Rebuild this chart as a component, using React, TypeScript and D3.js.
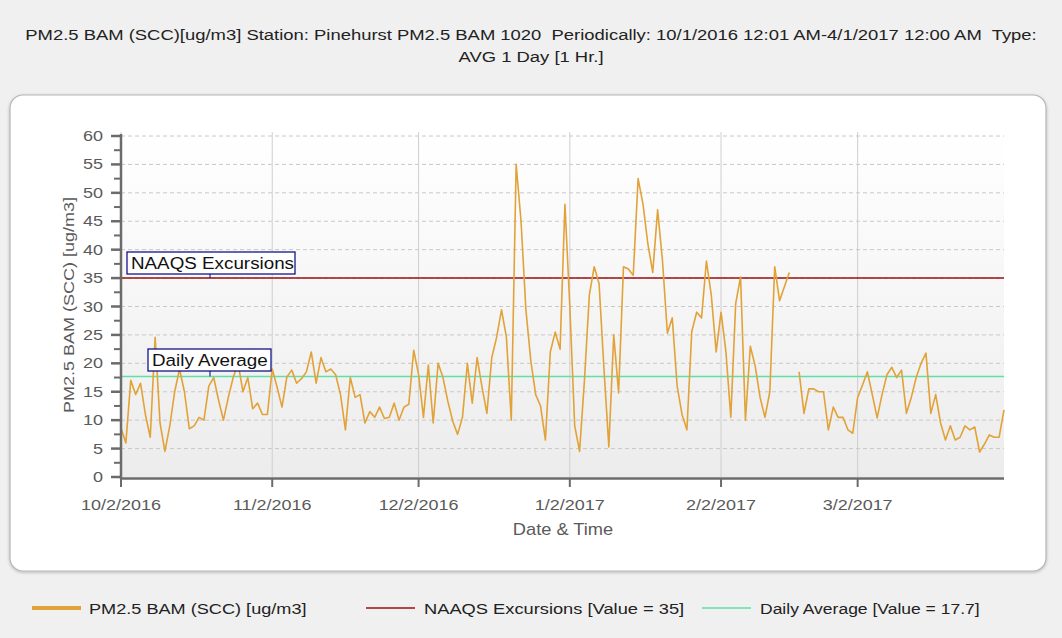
import React from "react";
import * as d3 from "d3";

// ---------- DATA ----------
const titleLines = [
  "PM2.5 BAM (SCC)[ug/m3] Station: Pinehurst PM2.5 BAM 1020  Periodically: 10/1/2016 12:01 AM-4/1/2017 12:00 AM  Type:",
  "AVG 1 Day [1 Hr.]",
];
const seriesStart = new Date(2016, 9, 2);
// daily averages from 10/2/2016 to 4/1/2017 (null = missing)
const pm25: (number | null)[] = [
  8.6, 6, 17, 14.5, 16.5, 11, 7, 24.6, 9.5, 4.5,
  9, 15, 19, 15, 8.5, 9, 10.5, 10, 16, 17.5,
  13.5, 10, 14, 17.5, 20, 15, 17.5, 12, 13, 11,
  11, 19, 15.8, 12.3, 17.6, 18.8, 16.5, 17.3, 18.5, 22,
  16.5, 21, 18.5, 19, 18, 14.5, 8.3, 17.5, 14, 14.5,
  9.5, 11.5, 10.5, 12.3, 10.3, 10.5, 13, 10, 12.3, 12.8,
  22.3, 18, 10.5, 19.7, 9.5, 20, 17.5, 13.3, 9.8, 7.5,
  10.5, 20, 13, 21, 15.8, 11.2, 21, 24.6, 29.4, 24.6,
  10, 55, 45, 29.4, 20.5, 14.5, 12.5, 6.5, 22, 25.5,
  22.5, 48, 30, 9, 4.5, 17, 32, 37, 34, 19,
  5.3, 25, 14.8, 37, 36.6, 35.5, 52.5, 48, 41, 36,
  47, 38, 25.3, 28, 16, 11, 8.3, 25.6, 29, 28,
  38, 32, 22, 29, 22, 10.5, 30.5, 35.2, 10, 23,
  19.5, 14, 10.5, 15, 37, 31, 33.5, 36, null, 18.5,
  11.2, 15.5, 15.5, 15, 15, 8.3, 12.3, 10.5, 10.5, 8.3,
  7.7, 14, 16.2, 18.5, 14.5, 10.4, 14.5, 18, 19.3, 17.5,
  18.8, 11.2, 14, 17.5, 20, 21.8, 11.2, 14.5, 9.5, 6.5,
  9, 6.5, 7, 9, 8.3, 8.8, 4.4, 5.8, 7.4, 7,
  7, 11.8,
];
const naaqsValue = 35;
const dailyAverageValue = 17.7;
const xTickDates = [
  new Date(2016, 9, 2), new Date(2016, 10, 2), new Date(2016, 11, 2),
  new Date(2017, 0, 2), new Date(2017, 1, 2), new Date(2017, 2, 2),
];
const xTickLabels = ["10/2/2016", "11/2/2016", "12/2/2016", "1/2/2017", "2/2/2017", "3/2/2017"];
const yMajorTicks = [0, 5, 10, 15, 20, 25, 30, 35, 40, 45, 50, 55, 60];
const yMinorTicks = [2.5, 7.5, 12.5, 17.5, 22.5, 27.5, 32.5, 37.5, 42.5, 47.5, 52.5, 57.5];
const yAxisTitle = "PM2.5 BAM (SCC) [ug/m3]";
const xAxisTitle = "Date & Time";
const legendLabels = [
  "PM2.5 BAM (SCC) [ug/m3]",
  "NAAQS Excursions [Value = 35]",
  "Daily Average [Value = 17.7]",
];
const annotationLabels = ["NAAQS Excursions", "Daily Average"];

// ---------- STYLE ----------
const FONT = "'Liberation Sans', Arial, sans-serif";
const C_SERIES = "#e2a238";
const C_NAAQS = "#9b1010";
const C_AVG = "#5fe0a8";
const C_AXIS = "#6b6b6b";
const C_TEXT = "#5a5a5a";

type TProps = {
  x: number; y: number; size: number; sx?: number; anchor?: "start" | "middle" | "end";
  fill?: string; rotate?: number; children: React.ReactNode;
};
function T({ x, y, size, sx = 1.18, anchor = "start", fill = "#222", rotate = 0, children }: TProps) {
  return (
    <text
      transform={`translate(${x},${y}) rotate(${rotate}) scale(${sx},1)`}
      textAnchor={anchor}
      fontSize={size}
      fill={fill}
      style={{ whiteSpace: "pre" }}
    >
      {children}
    </text>
  );
}

export default function App() {
  const W = 1062, H = 638;
  const left = 121, right = 1004, top = 136, bottom = 477;

  const x = d3.scaleTime()
    .domain([new Date(2016, 9, 2), new Date(2017, 3, 1)])
    .range([left, right]);
  const y = d3.scaleLinear().domain([0, 60]).range([bottom, top]);

  const pts = pm25.map((v, i) => ({ date: d3.timeDay.offset(seriesStart, i), v }));
  const line = d3.line<{ date: Date; v: number | null }>()
    .defined((d) => d.v !== null)
    .x((d) => x(d.date))
    .y((d) => y(d.v as number));

  const annY = [y(naaqsValue), y(dailyAverageValue)];
  const annBoxes = [
    { x0: 127, w: 168, yTop: 252 },
    { x0: 148, w: 123, yTop: 349 },
  ];

  return (
    <svg width={W} height={H} style={{ position: "absolute", left: 0, top: 0 }} fontFamily={FONT}>
      <defs>
        <linearGradient id="plotBg" x1="0" y1="0" x2="0" y2="1">
          <stop offset="0" stopColor="#ffffff" />
          <stop offset="1" stopColor="#ececec" />
        </linearGradient>
        <filter id="shadow" x="-5%" y="-5%" width="110%" height="110%">
          <feDropShadow dx="0" dy="1" stdDeviation="1.5" floodColor="#000" floodOpacity="0.25" />
        </filter>
      </defs>
      <rect x={0} y={0} width={W} height={H} fill="#f0f0f0" />

      {/* title */}
      {titleLines.map((t, i) => (
        <T key={i} x={531} y={40 + i * 22} size={15.5} sx={1.19} anchor="middle" fill="#222">
          {t}
        </T>
      ))}

      {/* panel */}
      <rect x={10} y={95} width={1036} height={476} rx={13} fill="#fff" stroke="#b5b5b5" strokeWidth={1.2} filter="url(#shadow)" />

      {/* plot background */}
      <rect x={left} y={top - 4} width={right - left} height={bottom - top + 4} fill="url(#plotBg)" />

      {/* horizontal dashed grid */}
      {yMajorTicks.filter((t) => t > 0).map((t) => (
        <line key={"hg" + t} x1={left} x2={right} y1={y(t)} y2={y(t)} stroke="#c8c8c8" strokeDasharray="4,3" strokeWidth={1} />
      ))}
      {/* vertical grid */}
      {xTickDates.map((d, i) => (
        <line key={"vg" + i} x1={x(d)} x2={x(d)} y1={top - 4} y2={bottom} stroke="#cfcfcf" strokeWidth={1} />
      ))}

      {/* reference lines */}
      <line x1={left} x2={right} y1={y(naaqsValue)} y2={y(naaqsValue)} stroke={C_NAAQS} strokeWidth={1.5} />
      <line x1={left} x2={right} y1={y(dailyAverageValue)} y2={y(dailyAverageValue)} stroke={C_AVG} strokeWidth={1.5} />

      {/* series */}
      <path d={line(pts) || ""} fill="none" stroke={C_SERIES} strokeWidth={1.6} strokeLinejoin="round" />

      {/* axes */}
      <line x1={left} x2={left} y1={top - 2} y2={bottom + 2} stroke={C_AXIS} strokeWidth={2.5} />
      <line x1={left - 1} x2={right} y1={bottom + 1.5} y2={bottom + 1.5} stroke={C_AXIS} strokeWidth={2.5} />
      {yMinorTicks.map((t) => (
        <line key={"ym" + t} x1={left - 7} x2={left} y1={y(t)} y2={y(t)} stroke={C_AXIS} strokeWidth={2} />
      ))}
      {yMajorTicks.map((t) => (
        <line key={"yt" + t} x1={left - 10} x2={left} y1={y(t)} y2={y(t)} stroke={C_AXIS} strokeWidth={2.5} />
      ))}
      {yMajorTicks.map((t) => (
        <T key={"yl" + t} x={103} y={y(t) + 5} size={15} sx={1.2} anchor="end" fill={C_TEXT}>
          {String(t)}
        </T>
      ))}
      {xTickDates.map((d, i) => (
        <g key={"xt" + i}>
          <line x1={x(d)} x2={x(d)} y1={bottom + 2} y2={bottom + 10} stroke={C_AXIS} strokeWidth={2} />
          <T x={x(d)} y={bottom + 33} size={15.5} sx={1.16} anchor="middle" fill={C_TEXT}>
            {xTickLabels[i]}
          </T>
        </g>
      ))}
      <T x={563} y={535} size={16} sx={1.14} anchor="middle" fill={C_TEXT}>{xAxisTitle}</T>
      <T x={74} y={305} size={15} sx={1.2} rotate={-90} anchor="middle" fill={C_TEXT}>{yAxisTitle}</T>

      {/* annotation boxes */}
      {annotationLabels.map((lab, i) => (
        <g key={"ann" + i}>
          <line x1={210} x2={210} y1={annBoxes[i].yTop + 22} y2={annY[i]} stroke="#000080" strokeWidth={1} />
          <rect x={annBoxes[i].x0} y={annBoxes[i].yTop} width={annBoxes[i].w} height={22} fill="#fff" stroke="#000080" strokeWidth={1.2} />
          <T x={annBoxes[i].x0 + 4} y={annBoxes[i].yTop + 17} size={16.5} sx={1.14} fill="#111">{lab}</T>
        </g>
      ))}

      {/* legend */}
      <line x1={32} x2={81} y1={608} y2={608} stroke={C_SERIES} strokeWidth={4} />
      <T x={89} y={614} size={15.5} sx={1.17} fill="#222">{legendLabels[0]}</T>
      <line x1={366} x2={415} y1={608} y2={608} stroke={C_NAAQS} strokeWidth={1.5} />
      <T x={424} y={614} size={15.5} sx={1.18} fill="#222">{legendLabels[1]}</T>
      <line x1={702} x2={751} y1={608} y2={608} stroke={C_AVG} strokeWidth={1.5} />
      <T x={760} y={614} size={15.5} sx={1.13} fill="#222">{legendLabels[2]}</T>
    </svg>
  );
}
